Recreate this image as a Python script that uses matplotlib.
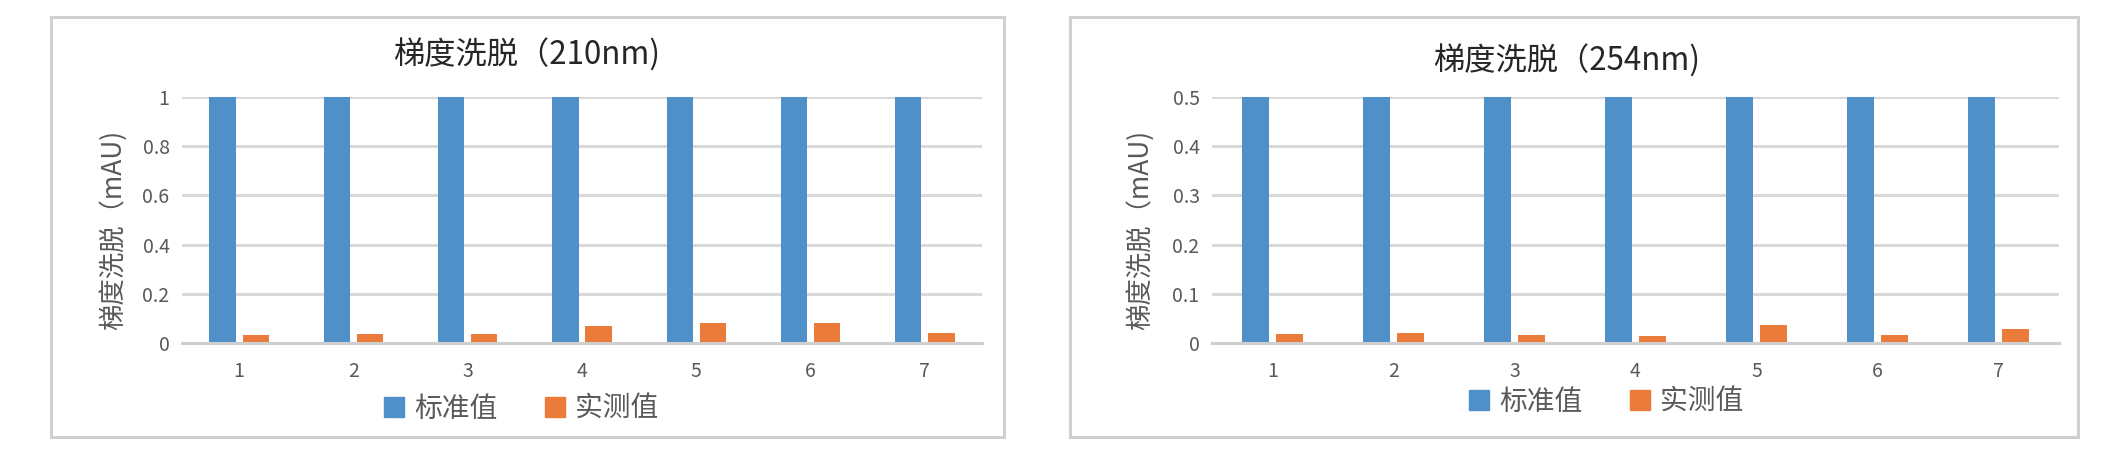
import numpy as np
import matplotlib
matplotlib.use('Agg')
import matplotlib.pyplot as plt
from matplotlib.patches import Rectangle, Patch

plt.rcParams['font.family'] = ['Noto Sans CJK SC', 'DejaVu Sans']

categories = ['1', '2', '3', '4', '5', '6', '7']
series_names = ['标准值', '实测值']

std_210 = [1, 1, 1, 1, 1, 1, 1]
meas_210 = [0.032, 0.038, 0.036, 0.069, 0.080, 0.082, 0.041]
yticks_210 = [0, 0.2, 0.4, 0.6, 0.8, 1]
ticklabels_210 = ['0', '0.2', '0.4', '0.6', '0.8', '1']

std_254 = [0.5, 0.5, 0.5, 0.5, 0.5, 0.5, 0.5]
meas_254 = [0.019, 0.021, 0.017, 0.014, 0.036, 0.017, 0.028]
yticks_254 = [0, 0.1, 0.2, 0.3, 0.4, 0.5]
ticklabels_254 = ['0', '0.1', '0.2', '0.3', '0.4', '0.5']

titles = ['梯度洗脱（210nm)', '梯度洗脱（254nm)']
ylabel = '梯度洗脱（mAU)'

BLUE = '#5090C8'
ORANGE = '#EA7B3B'
GRID = '#D9D9D9'
TXT = '#595959'

W, H = 2119, 457
fig = plt.figure(figsize=(W / 100, H / 100), dpi=100)


def px(x0, y0, x1, y1):
    # pixel box (top-left origin) -> figure fraction rect
    return [x0 / W, 1 - y1 / H, (x1 - x0) / W, (y1 - y0) / H]


panels = [
    dict(ax=px(182, 97, 982, 343), border=(51, 17, 1004, 437), title=(527, 55),
         ylab=(113, 230), legend=(521, 409), std=std_210, meas=meas_210,
         yt=yticks_210, ytl=ticklabels_210, top=1, width=0.23),
    dict(ax=px(1212, 97, 2059, 343), border=(1070, 17, 2078, 437), title=(1567, 61),
         ylab=(1140, 230), legend=(1606, 402), std=std_254, meas=meas_254,
         yt=yticks_254, ytl=ticklabels_254, top=0.5, width=0.22),
]

for i, p in enumerate(panels):
    bx0, by0, bx1, by1 = p['border']
    fig.patches.append(Rectangle((bx0 / W, 1 - by1 / H), (bx1 - bx0) / W, (by1 - by0) / H,
                                 transform=fig.transFigure, fill=False,
                                 edgecolor='#D0D0D0', linewidth=2.2, zorder=0))

    ax = fig.add_axes(p['ax'])
    x = np.arange(len(categories))
    w = p['width']
    off = w / 2 + 0.03
    ax.bar(x - off, p['std'], w, color=BLUE, zorder=3)
    ax.bar(x + off, p['meas'], w, color=ORANGE, zorder=3)

    ax.set_xlim(-0.5, len(categories) - 0.5)
    ax.set_ylim(0, p['top'])
    ax.set_xticks(x)
    ax.set_xticklabels(categories)
    ax.set_yticks(p['yt'])
    ax.set_yticklabels(p['ytl'])
    ax.tick_params(axis='both', length=0, labelsize=14, colors=TXT)
    ax.tick_params(axis='x', pad=13)
    ax.tick_params(axis='y', pad=9)
    ax.yaxis.grid(True, color=GRID, linewidth=2.2, zorder=0)
    ax.set_axisbelow(True)
    for s in ['top', 'right', 'left']:
        ax.spines[s].set_visible(False)
    ax.spines['bottom'].set_color('#CFCFCF')
    ax.spines['bottom'].set_linewidth(2.2)
    ax.spines['bottom'].set_zorder(4)
    ax.set_facecolor('none')

    fig.text(p['title'][0] / W, 1 - p['title'][1] / H, titles[i], ha='center', va='center',
             fontsize=22.5, fontweight='medium', color='#262626')
    fig.text(p['ylab'][0] / W, 1 - p['ylab'][1] / H, ylabel, rotation=90, ha='center',
             va='center', fontsize=19, color=TXT)

    handles = [Patch(color=BLUE), Patch(color=ORANGE)]
    ax.legend(handles, series_names, loc='center',
              bbox_to_anchor=(p['legend'][0] / W, 1 - p['legend'][1] / H),
              bbox_transform=fig.transFigure, ncol=2, frameon=False,
              fontsize=20, labelcolor=TXT, handlelength=0.75, handleheight=0.75,
              handletextpad=0.35, columnspacing=1.7)

fig.savefig('out.png', dpi=100, facecolor='white')
